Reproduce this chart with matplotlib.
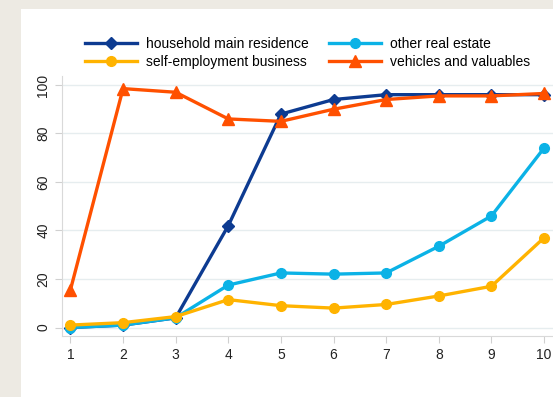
import matplotlib.pyplot as plt
from matplotlib.patches import Rectangle

plt.rcParams['font.family'] = ['Liberation Sans', 'DejaVu Sans']

deciles = [1, 2, 3, 4, 5, 6, 7, 8, 9, 10]
main_residence = [0, 1, 4, 42, 88, 94, 96, 96, 96, 96]
other_real_estate = [0, 1, 4, 17.5, 22.5, 22, 22.5, 33.5, 46, 74]
self_employment = [1, 2, 4.5, 11.5, 9, 8, 9.5, 13, 17, 37]
vehicles = [15.5, 98.5, 97, 86, 85, 90, 94, 95.5, 95.5, 96.5]

fig = plt.figure(figsize=(5.53, 3.97), dpi=100, facecolor='#edeae3')
# white panel behind the plot
fig.patches.append(Rectangle((21 / 553, 0), 1, 1 - 9 / 397, transform=fig.transFigure,
                             facecolor='white', edgecolor='none', zorder=-1))

ax = fig.add_axes([62 / 553, 1 - 336 / 397, 1 - 62 / 553, (336 - 76) / 397])
ax.set_zorder(2)
ax.set_facecolor('white')

lw, ms = 2.4, 7
l1, = ax.plot(deciles, main_residence, color='#0d3b91', marker='D', lw=lw, ms=ms - 1,
              label='household main residence')
l2, = ax.plot(deciles, other_real_estate, color='#0bb2e6', marker='o', lw=lw, ms=ms,
              label='other real estate')
l3, = ax.plot(deciles, self_employment, color='#ffb300', marker='o', lw=lw, ms=ms,
              label='self-employment business')
l4, = ax.plot(deciles, vehicles, color='#ff5000', marker='^', lw=lw, ms=ms + 1,
              label='vehicles and valuables')

ax.set_xlim(0.84, 10.17)
ax.set_ylim(-3.5, 103.7)
ax.set_xticks(deciles)
ax.set_yticks([0, 20, 40, 60, 80, 100])
ax.grid(axis='y', color='#e6edef', lw=1)
ax.set_axisbelow(True)
for s in ['top', 'right']:
    ax.spines[s].set_visible(False)
for s in ['left', 'bottom']:
    ax.spines[s].set_color('#d9d9d9')
ax.tick_params(colors='#d0d0d0', labelcolor='#222222', labelsize=10, length=5)
for lab in ax.get_yticklabels():
    lab.set_rotation(90)
    lab.set_va('center')

leg = fig.legend(handles=[l1, l3, l2, l4], ncol=2, frameon=False, fontsize=10,
                 loc='upper left', bbox_to_anchor=(72 / 553, 1 - 24 / 397),
                 handlelength=3.8, columnspacing=1.45, labelspacing=0.3, handletextpad=0.6)
leg.set_zorder(3)

fig.savefig('out.png', dpi=100, facecolor=fig.get_facecolor())
